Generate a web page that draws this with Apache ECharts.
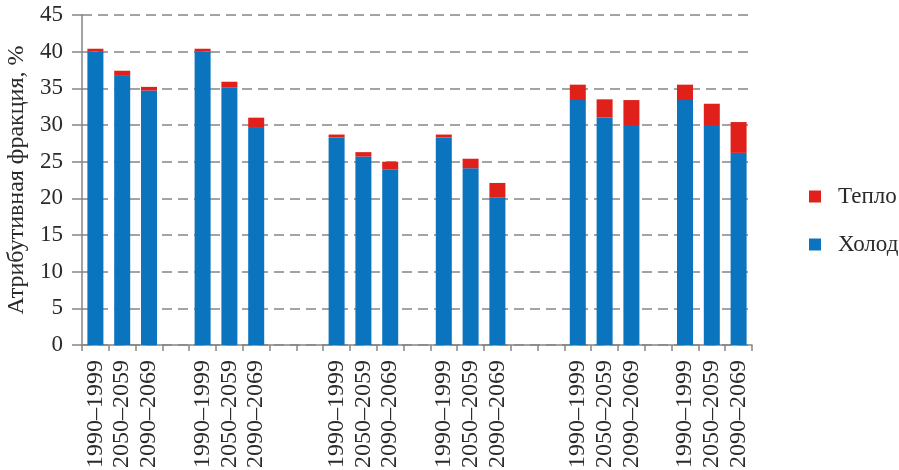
<!DOCTYPE html>
<html>
<head>
<meta charset="utf-8">
<script src="https://cdn.jsdelivr.net/npm/echarts@6/dist/echarts.min.js"></script>
<style>
  html, body { margin: 0; padding: 0; background: #fff; }
  #chart { width: 899px; height: 470px; }
</style>
</head>
<body>
<div id="chart"></div>
<script>
// категории (пустые строки — промежутки между группами)
const categories = [
  '1990–1999', '2050–2059', '2090–2069', '',
  '1990–1999', '2050–2059', '2090–2069', '', '',
  '1990–1999', '2050–2059', '2090–2069', '',
  '1990–1999', '2050–2059', '2090–2069', '', '',
  '1990–1999', '2050–2059', '2090–2069', '',
  '1990–1999', '2050–2059', '2090–2069'
]

// Холод
const coldValues = [
  40.0, 36.7, 34.7, null,
  40.0, 35.1, 29.6, null, null,
  28.3, 25.7, 23.9, null,
  28.3, 24.1, 20.1, null, null,
  33.4, 31.0, 30.0, null,
  33.4, 30.0, 26.2
]

// Тепло
const heatValues = [
  0.4, 0.7, 0.5, null,
  0.4, 0.8, 1.4, null, null,
  0.4, 0.6, 1.1, null,
  0.4, 1.3, 2.0, null, null,
  2.1, 2.5, 3.4, null,
  2.1, 2.9, 4.2
]

const yTicks = { min: 0, max: 45, interval: 5 }

const font = 'Liberation Serif'
const textColor = '#2a2a2a'
const axisColor = '#858585'

const chart = echarts.init(document.getElementById('chart'), null, { renderer: 'canvas' })

chart.setOption({
  animation: false,
  backgroundColor: '#fff',
  grid: {
    left: 82, right: 147, top: 15, bottom: 125,
    containLabel: false,
    outerBoundsMode: 'none'
  },
  legend: {
    orient: 'vertical',
    left: 804,
    top: 180,
    data: ['Тепло', 'Холод'],
    icon: 'rect',
    itemWidth: 12,
    itemHeight: 12,
    itemGap: 25,
    textStyle: { fontFamily: font, fontSize: 23, color: textColor, padding: [0, 0, 0, 12] }
  },
  xAxis: {
    type: 'category',
    data: categories,
    axisLine: { lineStyle: { color: axisColor, width: 1.5 } },
    axisTick: { show: true, length: 6, interval: 0, lineStyle: { color: axisColor, width: 1.5 } },
    axisLabel: {
      interval: 0,
      rotate: 90,
      margin: 15,
      fontFamily: font,
      fontSize: 24,
      color: textColor
    }
  },
  yAxis: {
    type: 'value',
    min: yTicks.min,
    max: yTicks.max,
    interval: yTicks.interval,
    name: 'Атрибутивная фракция, %',
    nameLocation: 'middle',
    nameGap: 52,
    nameTextStyle: { fontFamily: font, fontSize: 24, color: textColor },
    axisLine: { show: true, lineStyle: { color: axisColor, width: 1.5 } },
    axisTick: { show: true, length: 10, lineStyle: { color: axisColor, width: 1.5 } },
    axisLabel: { margin: 19, fontFamily: font, fontSize: 23, color: textColor },
    splitLine: {
      show: true,
      lineStyle: { color: axisColor, width: 1.5, type: [10, 6] }
    }
  },
  series: [
    {
      name: 'Холод',
      type: 'bar',
      stack: 'total',
      data: coldValues,
      barWidth: 16,
      itemStyle: { color: '#0a74bf' }
    },
    {
      name: 'Тепло',
      type: 'bar',
      stack: 'total',
      data: heatValues,
      barWidth: 16,
      itemStyle: { color: '#e0201b' }
    }
  ]
})
</script>
</body>
</html>
